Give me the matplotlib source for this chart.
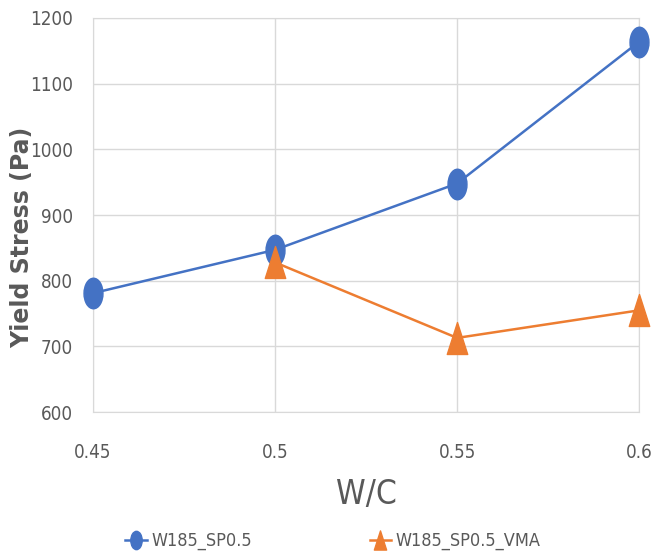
import matplotlib
matplotlib.use('Agg')
from matplotlib import pyplot as plt
from matplotlib.path import Path
import numpy as np

wc = [0.45, 0.5, 0.55, 0.6]
sp05 = [781, 847, 948, 1164]
wc_vma = [0.5, 0.55, 0.6]
sp05_vma = [828, 713, 755]

plt.rcParams['font.family'] = ['DejaVu Sans']
plt.rcParams['font.stretch'] = 'condensed'
grey = '#595959'

# tall, narrow markers like the original export
circ = Path.unit_circle()
ellipse = Path(circ.vertices * np.array([0.62, 1.0]), circ.codes)
tri = Path([(-0.64, -1.0), (0.64, -1.0), (0.0, 1.0), (-0.64, -1.0)],
           [Path.MOVETO, Path.LINETO, Path.LINETO, Path.CLOSEPOLY])

fig = plt.figure(figsize=(6.53, 5.6), dpi=100)
ax = fig.add_axes([0.142, 0.264, 0.837, 0.704])

ax.plot(wc, sp05, color='#4472C4', linewidth=1.8, marker=ellipse, markersize=22,
        label='W185_SP0.5', zorder=3, clip_on=False)
ax.plot(wc_vma, sp05_vma, color='#ED7D31', linewidth=1.8, marker=tri, markersize=23,
        label='W185_SP0.5_VMA', zorder=3, clip_on=False)

ax.set_xlim(0.45, 0.6)
ax.set_ylim(600, 1200)
ax.set_xticks(wc)
ax.set_xticklabels(['0.45', '0.5', '0.55', '0.6'])
ax.set_yticks(range(600, 1201, 100))
ax.grid(True, color='#D9D9D9', linewidth=1)
ax.set_axisbelow(True)
for s in ax.spines.values():
    s.set_color('#D9D9D9')
ax.tick_params(length=0, labelsize=13.5, colors=grey)
ax.tick_params(axis='y', pad=14)
ax.tick_params(axis='x', pad=22)

ax.set_xlabel('W/C', fontsize=24, color=grey, labelpad=12)
fig.text(0.034, 0.379, 'Yield Stress (Pa)', rotation=90, ha='center', va='bottom',
         fontsize=17, color=grey, fontweight='bold', fontstretch='normal')

fig.legend(loc='center', bbox_to_anchor=(0.51, 0.034), ncol=2, frameon=False,
           fontsize=13, labelcolor=grey, columnspacing=6.5, handlelength=1.2,
           handletextpad=0.25, markerscale=0.6)

fig.savefig('out.png', dpi=100)
